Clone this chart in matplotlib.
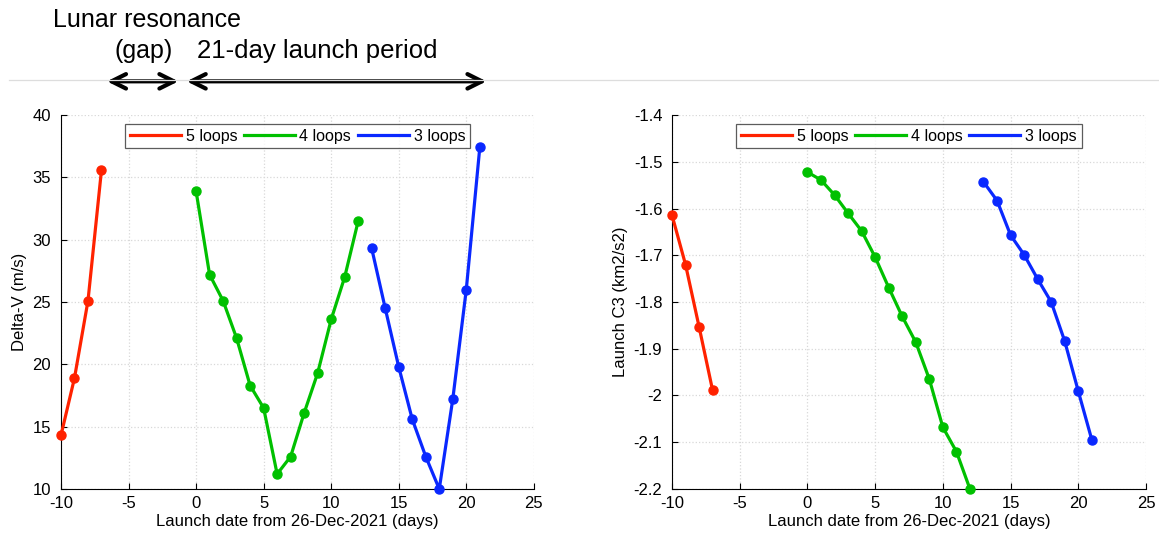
import matplotlib.pyplot as plt
import matplotlib.transforms as mtransforms
from matplotlib.lines import Line2D

plt.rcParams['font.family'] = ['Liberation Sans', 'DejaVu Sans']
plt.rcParams['axes.unicode_minus'] = False

# launch day offsets from 26-Dec-2021
days_5 = [-10, -9, -8, -7]
days_4 = [0, 1, 2, 3, 4, 5, 6, 7, 8, 9, 10, 11, 12]
days_3 = [13, 14, 15, 16, 17, 18, 19, 20, 21]

# delta-V (m/s)
dv_5 = [14.3, 18.9, 25.1, 35.6]
dv_4 = [33.9, 27.2, 25.1, 22.1, 18.3, 16.5, 11.2, 12.6, 16.1, 19.3, 23.6, 27.0, 31.5]
dv_3 = [29.3, 24.5, 19.8, 15.6, 12.6, 10.0, 17.2, 26.0, 37.4]

# launch C3 (km2/s2)
c3_5 = [-1.614, -1.720, -1.853, -1.989]
c3_4 = [-1.522, -1.539, -1.571, -1.610, -1.648, -1.704, -1.769, -1.831,
        -1.886, -1.965, -2.068, -2.120, -2.200]
c3_3 = [-1.543, -1.583, -1.657, -1.699, -1.751, -1.800, -1.884, -1.991, -2.095]

labels = ['5 loops', '4 loops', '3 loops']
colors = ['#ff2200', '#00c000', '#0a28ff']

fig = plt.figure(figsize=(11.59, 5.35), dpi=100)
ax1 = fig.add_axes([0.0526, 0.086, 0.408, 0.699])
ax2 = fig.add_axes([0.5798, 0.086, 0.409, 0.699])


def draw_panel(ax, ys, ylim, yticks, ylabel):
    lines = []
    for x, y, c, lab in zip([days_5, days_4, days_3], ys, colors, labels):
        ax.plot(x, y, '-o', color=c, lw=2.3, ms=6.5, clip_on=False, zorder=3)
        lines.append(Line2D([], [], color=c, lw=2.3, label=lab))
    ax.set_xlim(-10, 25)
    ax.set_ylim(*ylim)
    ax.set_xticks(range(-10, 26, 5))
    ax.set_yticks(yticks)
    ax.set_yticklabels([f'{t:g}' for t in yticks])
    ax.grid(True, color='#d8d8d8', ls=':', lw=0.9)
    ax.set_axisbelow(True)
    for s in ['top', 'right']:
        ax.spines[s].set_visible(False)
    ax.tick_params(direction='in', labelsize=12, length=4)
    ax.tick_params(axis='x', pad=5)
    ax.tick_params(axis='y', pad=7)
    ax.set_xlabel('Launch date from 26-Dec-2021 (days)', fontsize=12, labelpad=2)
    ax.set_ylabel(ylabel, fontsize=12, labelpad=4)
    leg = ax.legend(handles=lines, loc='upper center', ncol=3, fontsize=11.5,
                    bbox_to_anchor=(0.5, 0.985), fancybox=False, edgecolor='#333333',
                    handlelength=3.2, columnspacing=0.4, handletextpad=0.3,
                    borderpad=0.3, borderaxespad=0.2)
    leg.get_frame().set_linewidth(0.9)


draw_panel(ax1, [dv_5, dv_4, dv_3], (10, 40), [10, 15, 20, 25, 30, 35, 40], 'Delta-V (m/s)')
c3_ticks = [-2.2, -2.1, -2.0, -1.9, -1.8, -1.7, -1.6, -1.5, -1.4]
draw_panel(ax2, [c3_5, c3_4, c3_3], (-2.2, -1.4), c3_ticks, 'Launch C3 (km2/s2)')

# separator line across the figure
fig.add_artist(Line2D([0.008, 1.0], [0.85, 0.85], transform=fig.transFigure,
                      color='#dddddd', lw=0.9))

# launch period annotations above the left panel
trans = mtransforms.blended_transform_factory(ax1.transData, fig.transFigure)
arrow = dict(arrowstyle='<->', lw=3, color='black', mutation_scale=26, shrinkA=0, shrinkB=0)
ax1.annotate('', xy=(-6.6, 0.848), xytext=(-1.3, 0.848), xycoords=trans, textcoords=trans,
             arrowprops=arrow, annotation_clip=False)
ax1.annotate('', xy=(-0.7, 0.848), xytext=(21.5, 0.848), xycoords=trans, textcoords=trans,
             arrowprops=arrow, annotation_clip=False)
ax1.text(-3.6, 0.962, 'Lunar resonance', transform=trans, ha='center', va='center', fontsize=18)
ax1.text(-3.9, 0.904, '(gap)', transform=trans, ha='center', va='center', fontsize=18)
ax1.text(9.0, 0.904, '21-day launch period', transform=trans, ha='center', va='center', fontsize=18.5)

fig.savefig('out.png', dpi=100)
